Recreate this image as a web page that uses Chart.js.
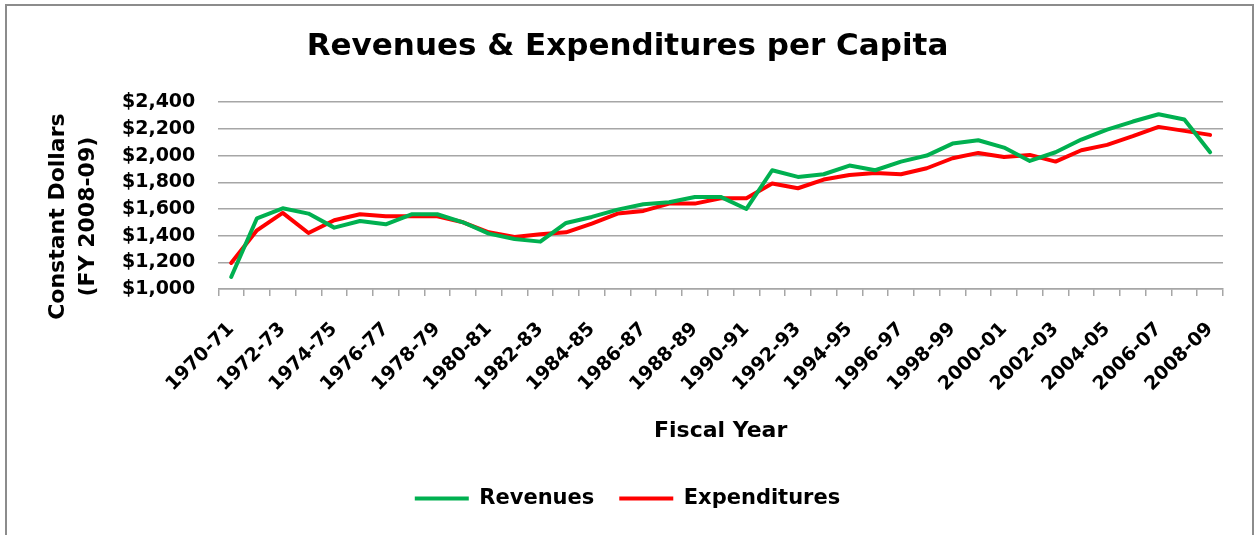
<!DOCTYPE html>
<html>
<head>
<meta charset="utf-8">
<title>Revenues & Expenditures per Capita</title>
<script src="https://cdn.jsdelivr.net/npm/chart.js@4.4.1/dist/chart.umd.min.js"></script>
<style>
  html, body { margin: 0; padding: 0; background: #fff; }
  canvas { display: block; }
</style>
</head>
<body>
<canvas id="revExpChart" width="1255" height="535"></canvas>
<script>
const fiscalYears = [
    '1970-71', '1971-72', '1972-73', '1973-74', '1974-75', '1975-76', '1976-77', '1977-78',
    '1978-79', '1979-80', '1980-81', '1981-82', '1982-83', '1983-84', '1984-85', '1985-86',
    '1986-87', '1987-88', '1988-89', '1989-90', '1990-91', '1991-92', '1992-93', '1993-94',
    '1994-95', '1995-96', '1996-97', '1997-98', '1998-99', '1999-00', '2000-01', '2001-02',
    '2002-03', '2003-04', '2004-05', '2005-06', '2006-07', '2007-08', '2008-09'
];

// constant dollars (FY 2008-09)
const revenues = [
    1090, 1530, 1605, 1565, 1460, 1510, 1485, 1560, 1560, 1500,
    1415, 1375, 1355, 1495, 1540, 1595, 1635, 1650, 1690, 1690,
    1600, 1890, 1840, 1860, 1925, 1890, 1955, 2000, 2090, 2115,
    2060, 1960, 2025, 2120, 2195, 2255, 2310, 2270, 2025
];
const expenditures = [
    1195, 1440, 1570, 1420, 1515, 1560, 1545, 1545, 1545, 1500,
    1425, 1390, 1410, 1425, 1490, 1565, 1585, 1640, 1640, 1680,
    1680, 1790, 1755, 1820, 1855, 1870, 1860, 1905, 1980, 2020,
    1990, 2005, 1955, 2040, 2080, 2145, 2215, 2185, 2155
];

const yMin = 1000;
const yMax = 2400;
const yStep = 200;
const yTitleLines = ['Constant Dollars', '(FY 2008-09)'];

const FONT = "'DejaVu Sans', sans-serif";
const GRID = '#a6a6a6';

// white page with the grey frame round the chart
const chartFrame = {
    id: 'chartFrame',
    beforeDraw(chart) {
        const ctx = chart.ctx;
        ctx.save();
        ctx.fillStyle = '#fff';
        ctx.fillRect(0, 0, chart.width, chart.height);
        ctx.strokeStyle = '#8c8c8c';
        ctx.lineWidth = 2;
        ctx.strokeRect(6, 5, chart.width - 8, chart.height + 10);
        ctx.restore();
    }
};

// two-line y axis title, sits a bit below the middle of the axis
const yAxisTitle = {
    id: 'yAxisTitle',
    afterDraw(chart) {
        const s = chart.scales.y;
        const ctx = chart.ctx;
        ctx.save();
        ctx.translate(s.left + 26, (s.top + s.bottom) / 2 + 21);
        ctx.rotate(-Math.PI / 2);
        ctx.font = `bold 22px ${FONT}`;
        ctx.fillStyle = '#000';
        ctx.textAlign = 'center';
        ctx.textBaseline = 'middle';
        yTitleLines.forEach((line, i) => ctx.fillText(line, 0, i * 30));
        ctx.restore();
    }
};

const ctx = document.getElementById('revExpChart').getContext('2d');

new Chart(ctx, {
    type: 'line',
    data: {
        labels: fiscalYears,
        datasets: [{
            label: 'Revenues',
            data: revenues,
            borderColor: '#00b050',
            backgroundColor: '#00b050',
            borderWidth: 4,
            borderJoinStyle: 'round',
            borderCapStyle: 'round',
            pointRadius: 0,
            tension: 0
        }, {
            label: 'Expenditures',
            data: expenditures,
            borderColor: '#ff0000',
            backgroundColor: '#ff0000',
            borderWidth: 4,
            borderJoinStyle: 'round',
            borderCapStyle: 'round',
            pointRadius: 0,
            tension: 0
        }]
    },
    options: {
        responsive: false,
        animation: false,
        devicePixelRatio: 1,
        layout: { padding: { top: 10, left: 32, right: 32, bottom: 16 } },
        plugins: {
            title: {
                display: true,
                text: 'Revenues & Expenditures per Capita',
                color: '#000',
                font: { family: FONT, size: 31, weight: 'bold' },
                padding: { top: 18, bottom: 37 }
            },
            legend: {
                position: 'bottom',
                labels: {
                    usePointStyle: true,
                    pointStyle: 'line',
                    pointStyleWidth: 54,
                    padding: 25,
                    color: '#000',
                    font: { family: FONT, size: 21, weight: 'bold' }
                }
            },
            tooltip: { enabled: false }
        },
        scales: {
            x: {
                offset: true,
                grid: {
                    offset: true,
                    drawOnChartArea: false,
                    color: GRID,
                    tickLength: 7,
                    lineWidth: 1.5
                },
                border: { color: GRID, width: 1.5 },
                ticks: {
                    autoSkip: false,
                    minRotation: 45,
                    maxRotation: 45,
                    padding: 22,
                    color: '#000',
                    font: { family: FONT, size: 19, weight: 'bold' },
                    callback: (v, i) => (i % 2 === 0 ? fiscalYears[i] : '')
                },
                title: {
                    display: true,
                    text: 'Fiscal Year',
                    color: '#000',
                    font: { family: FONT, size: 22, weight: 'bold' },
                    padding: { top: 0, bottom: 19 }
                },
                afterFit: (scale) => { scale.height = 174; }
            },
            y: {
                min: yMin,
                max: yMax,
                grid: { color: GRID, lineWidth: 1.5, drawTicks: false },
                border: { display: false },
                ticks: {
                    stepSize: yStep,
                    padding: 23,
                    color: '#000',
                    font: { family: FONT, size: 19, weight: 'bold' },
                    callback: (v) => '$' + v.toLocaleString('en-US')
                },
                afterFit: (scale) => { scale.width = 186.3; }
            }
        }
    },
    plugins: [chartFrame, yAxisTitle]
});
</script>
</body>
</html>
